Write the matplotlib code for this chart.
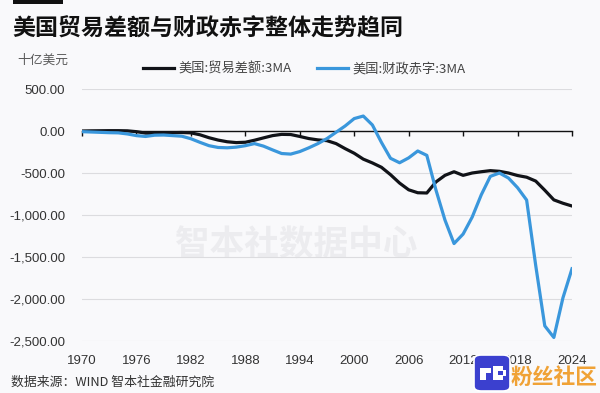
import matplotlib

matplotlib.use("Agg")
import matplotlib.pyplot as plt
from matplotlib.patches import FancyBboxPatch, Rectangle
from matplotlib.ticker import FuncFormatter


years = list(range(1970, 2025))

# 美国:贸易差额:3MA (十亿美元)
trade_balance = [
    0, 2, 3, 4, 4, 2, -8, -25, -30, -26,
    -20, -18, -22, -45, -80, -108, -128, -138, -134, -110,
    -82, -55, -40, -42, -65, -90, -106, -115, -150, -210,
    -265, -335, -380, -432, -520, -620, -700, -735, -738, -607,
    -528, -485, -528, -500, -485, -472, -480, -500, -530, -550,
    -596, -705, -820, -860, -893,
]

# 美国:财政赤字:3MA (十亿美元)
fiscal_deficit = [
    -8, -12, -16, -20, -22, -35, -55, -65, -50, -48,
    -55, -62, -92, -135, -175, -196, -200, -192, -175, -150,
    -180, -225, -268, -275, -245, -200, -150, -90, -15, 60,
    148, 178, 72, -136, -325, -378, -320, -238, -290, -700,
    -1060, -1340, -1227, -1025, -760, -540, -500, -560, -675, -822,
    -1600, -2320, -2458, -1987, -1640,
]

year_ticks = list(range(1970, 2025, 6))
y_ticks = [500, 0, -500, -1000, -1500, -2000, -2500]

title = "美国贸易差额与财政赤字整体走势趋同"
unit_label = "十亿美元"
series_names = ["美国:贸易差额:3MA", "美国:财政赤字:3MA"]
source = "数据来源：WIND 智本社金融研究院"
watermark = "智本社数据中心"

BG = "#f9f9fb"
CJK = ["Noto Sans CJK SC", "DejaVu Sans"]
NUM = ["Liberation Sans", "DejaVu Sans"]

W, H = 600, 393


def fx(px):
    return px / W


def fy(py):
    return 1 - py / H


def fit_width(txt, target_px):
    # scale the font so the text spans the width measured on the reference
    r = fig.canvas.get_renderer()
    w = txt.get_window_extent(renderer=r).width
    txt.set_fontsize(txt.get_fontsize() * target_px / w)


fig = plt.figure(figsize=(6.0, 3.93), dpi=100, facecolor=BG)
ax = fig.add_axes([fx(82), fy(341), (572 - 82) / W, (341 - 89) / H])
ax.set_facecolor(BG)

ax.plot(years, trade_balance, color="#111318", lw=2.3, label=series_names[0],
        solid_joinstyle="round", zorder=3)
ax.plot(years, fiscal_deficit, color="#3a97dc", lw=2.3, label=series_names[1],
        solid_joinstyle="round", zorder=4)

ax.set_xlim(1970, 2024)
ax.set_ylim(-2500, 500)
ax.set_yticks(y_ticks)
ax.yaxis.set_major_formatter(FuncFormatter(lambda v, _: f"{v:,.2f}"))
ax.set_axisbelow(True)
ax.grid(axis="y", color="#dcdcdf", lw=0.8)

for side in ["top", "right", "left"]:
    ax.spines[side].set_visible(False)
ax.spines["bottom"].set_position(("data", 0))
ax.spines["bottom"].set_color("#111111")
ax.spines["bottom"].set_linewidth(1.0)
ax.set_xticks(year_ticks)
ax.tick_params(axis="x", direction="out", length=3.5, width=1.0, color="#111111",
               labelbottom=False)
ax.tick_params(axis="y", length=0, pad=12, labelsize=9.5, labelcolor="#333333")
for lab in ax.get_yticklabels():
    lab.set_family(NUM)

sec = ax.secondary_xaxis("bottom")
sec.set_xticks(year_ticks)
sec.spines["bottom"].set_visible(False)
sec.tick_params(length=0, pad=10, labelsize=9.5, labelcolor="#333333")
for lab in sec.get_xticklabels():
    lab.set_family(NUM)

wm = ax.text(0.437, 0.38, watermark, transform=ax.transAxes, ha="center", va="center",
             fontsize=25, fontweight="bold", color="#ececef", family=CJK, zorder=0.1)

fig.legend(loc="center", bbox_to_anchor=(fx(304), fy(69)), ncol=2, frameon=False,
           handlelength=2.4, handletextpad=0.3, columnspacing=1.9,
           prop={"family": CJK, "size": 9.5}, labelcolor="#444444")

# decorative bar above the title
fig.add_artist(Rectangle((fx(13), fy(4)), fx(50), 4 / H, transform=fig.transFigure,
                         facecolor="#111111", edgecolor="none"))
t_title = fig.text(fx(12), fy(29), title, ha="left", va="center", fontsize=16.5,
                   fontweight="bold", color="#111111", family=CJK)
t_unit = fig.text(fx(17), fy(60), unit_label, ha="left", va="center", fontsize=9,
                  color="#5a5a5a", family=CJK)
t_src = fig.text(fx(11), fy(382), source, ha="left", va="center", fontsize=8.5,
                 color="#333333", family=CJK)

# site badge in the lower right corner
fig.add_artist(FancyBboxPatch((fx(474), fy(391)), fx(36), 36 / H,
                              boxstyle="round,pad=0,rounding_size=0.012",
                              transform=fig.transFigure, facecolor="#3b40cf",
                              edgecolor="white", lw=1.2, zorder=10))
for x0, y0, w, h in [(480, 368, 6, 12), (486, 368, 5, 5), (493, 366, 5, 14),
                     (498, 366, 5, 5), (498, 375, 5, 5), (503, 370, 3, 6)]:
    fig.add_artist(Rectangle((fx(x0), fy(y0 + h)), w / W, h / H, transform=fig.transFigure,
                             facecolor="white", edgecolor="none", zorder=11))
t_badge = fig.text(fx(511), fy(377), "粉丝社区", ha="left", va="center", fontsize=16,
                   fontweight="bold", color="#f0a236", family=CJK, zorder=12)

fig.canvas.draw()
fit_width(t_title, 390)
fit_width(t_unit, 51)
fit_width(t_src, 203)
fit_width(wm, 243)
fit_width(t_badge, 87)

fig.savefig("out.png", dpi=100, facecolor=BG)
